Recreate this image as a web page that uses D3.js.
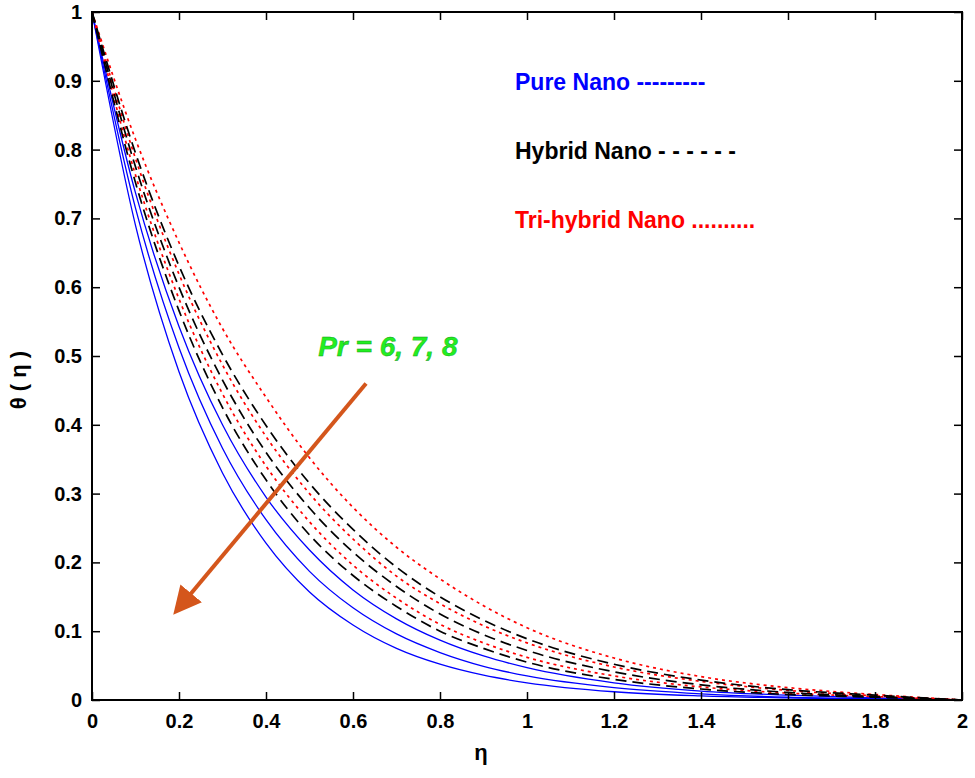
<!DOCTYPE html>
<html><head><meta charset="utf-8">
<script src="https://cdn.jsdelivr.net/npm/d3@7"></script>
<style>body{margin:0;background:#fff}svg{font-family:Arial,"Liberation Sans",sans-serif}</style>
</head><body><svg id="c" width="975" height="778"></svg>
<script>
const eta = [0,0.1,0.2,0.3,0.4,0.5,0.6,0.7,0.8,0.9,1.0,1.2,1.4,1.6,1.8,2.0];
const pureNano = [
  [1,0.69,0.477,0.33,0.228,0.157,0.109,0.075,0.052,0.036,0.025,0.012,0.006,0.003,0.001,0],
  [1,0.715,0.512,0.366,0.262,0.187,0.134,0.096,0.069,0.049,0.035,0.018,0.009,0.004,0.002,0],
  [1,0.737,0.543,0.40,0.295,0.218,0.160,0.118,0.087,0.064,0.047,0.025,0.013,0.007,0.003,0]
];
const hybridNano = [
  [1,0.752,0.566,0.425,0.32,0.24,0.181,0.136,0.10,0.075,0.055,0.030,0.016,0.008,0.004,0],
  [1,0.775,0.60,0.465,0.36,0.279,0.215,0.165,0.125,0.095,0.072,0.041,0.022,0.011,0.005,0],
  [1,0.795,0.631,0.502,0.399,0.315,0.248,0.193,0.150,0.116,0.089,0.052,0.029,0.015,0.007,0]
];
const triNano = [
  [1,0.763,0.583,0.445,0.34,0.259,0.196,0.148,0.11,0.083,0.062,0.035,0.019,0.010,0.005,0],
  [1,0.787,0.619,0.487,0.383,0.30,0.234,0.18,0.14,0.108,0.083,0.048,0.027,0.014,0.006,0],
  [1,0.815,0.665,0.54,0.44,0.352,0.28,0.222,0.176,0.137,0.105,0.061,0.034,0.018,0.008,0]
];
const xTicks = [0,0.2,0.4,0.6,0.8,1,1.2,1.4,1.6,1.8,2];
const yTicks = [0,0.1,0.2,0.3,0.4,0.5,0.6,0.7,0.8,0.9,1];
const legend = [
  {label:"Pure Nano ---------", color:"#0000ff"},
  {label:"Hybrid Nano - - - - - -", color:"#000"},
  {label:"Tri-hybrid Nano ..........", color:"#ff0000"}
];
const arrowFrom = [0.63,0.46], arrowTo = [0.195,0.13];
const labelPos = [0.52,0.5];

const svg = d3.select("#c");
const L=92,R=962,T=12,B=700;
const x = d3.scaleLinear().domain([0,2]).range([L,R]);
const y = d3.scaleLinear().domain([0,1]).range([B,T]);
const line = d3.line().x((d,i)=>x(eta[i])).y(d=>y(d)).curve(d3.curveMonotoneX);

const g = svg.append("g");
const sets = [
  {data:pureNano,color:"#0000ff",dash:null,w:1.3},
  {data:triNano,color:"#ff0000",dash:"3,4",w:1.7},
  {data:hybridNano,color:"#000",dash:"11,6",w:1.7}
];
sets.forEach(s=>s.data.forEach(arr=>{
  g.append("path").attr("d",line(arr)).attr("fill","none").attr("stroke",s.color)
   .attr("stroke-width",s.w).attr("stroke-dasharray",s.dash);
}));

const ax = svg.append("g").attr("transform",`translate(0,${B})`).call(d3.axisBottom(x).tickValues(xTicks).tickSize(-8).tickPadding(14).tickFormat(d3.format("")));
const ay = svg.append("g").attr("transform",`translate(${L},0)`).call(d3.axisLeft(y).tickValues(yTicks).tickSize(-8).tickPadding(10).tickFormat(d3.format("")));
const at = svg.append("g").attr("transform",`translate(0,${T})`).call(d3.axisTop(x).tickValues(xTicks).tickSize(-8).tickFormat(""));
const ar = svg.append("g").attr("transform",`translate(${R},0)`).call(d3.axisRight(y).tickValues(yTicks).tickSize(-8).tickFormat(""));
[ax,ay,at,ar].forEach(a=>{a.select(".domain").remove();a.selectAll("line").attr("stroke","#000").attr("stroke-width",1.5);
  a.selectAll("text").attr("font-size",20).attr("font-weight","bold").attr("fill","#000");});
svg.append("rect").attr("x",L).attr("y",T).attr("width",R-L).attr("height",B-T).attr("fill","none").attr("stroke","#000").attr("stroke-width",2);

svg.append("text").attr("x",481).attr("y",760).attr("text-anchor","middle").attr("font-size",22).attr("font-weight","bold").text("η");
svg.append("text").attr("transform","translate(26,380) rotate(-90)").attr("text-anchor","middle").attr("font-size",22).attr("font-weight","bold").text("θ ( η )");

legend.forEach((d,i)=>svg.append("text").attr("x",515).attr("y",90+i*69).attr("font-size",23).attr("font-weight","bold").attr("fill",d.color).text(d.label));

svg.append("defs").append("marker").attr("id","ah").attr("viewBox","0 0 10 10").attr("refX",8).attr("refY",5)
  .attr("markerWidth",7).attr("markerHeight",7).attr("orient","auto")
  .append("path").attr("d","M0,0L10,5L0,10z").attr("fill","#d4561c");
svg.append("line").attr("x1",x(arrowFrom[0])).attr("y1",y(arrowFrom[1])).attr("x2",x(arrowTo[0])).attr("y2",y(arrowTo[1]))
  .attr("stroke","#d4561c").attr("stroke-width",4).attr("marker-end","url(#ah)");
svg.append("text").attr("x",x(labelPos[0])).attr("y",y(labelPos[1])).attr("font-size",28).attr("font-weight","bold").attr("font-style","italic")
  .attr("fill","#22ee22").attr("stroke","#119911").attr("stroke-width",0.4).text("Pr = 6, 7, 8");
</script></body></html>
